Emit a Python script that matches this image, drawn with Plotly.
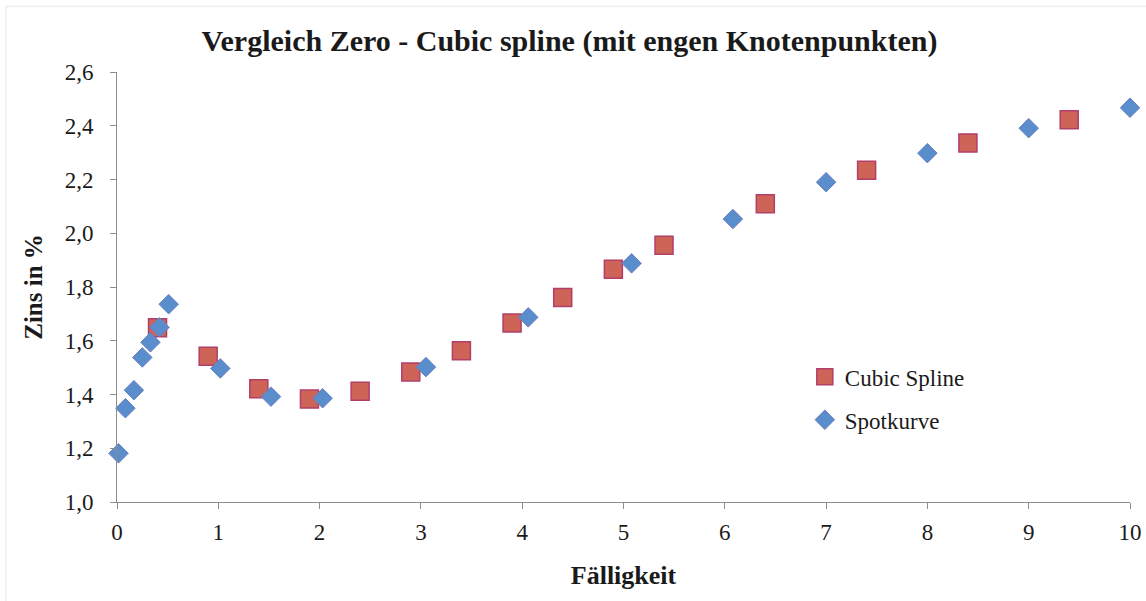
import plotly.graph_objects as go

# Cubic spline (Knotenpunkte)
spline_x = [0.4, 0.9, 1.4, 1.9, 2.4, 2.9, 3.4, 3.9, 4.4, 4.9, 5.4, 6.4, 7.4, 8.4, 9.4]
spline_y = [1.648, 1.542, 1.421, 1.383, 1.412, 1.484, 1.563, 1.666, 1.761, 1.866, 1.955, 2.110, 2.234, 2.336, 2.422]

# Spotkurve
spot_x = [0.015, 0.083, 0.167, 0.25, 0.33, 0.42, 0.51, 1.02, 1.52, 2.03, 3.05, 4.06, 5.08, 6.08, 7.0, 8.0, 9.0, 10.0]
spot_y = [1.181, 1.349, 1.416, 1.538, 1.594, 1.650, 1.736, 1.497, 1.392, 1.386, 1.502, 1.687, 1.888, 2.053, 2.190, 2.298, 2.391, 2.467]

x_ticks = [0, 1, 2, 3, 4, 5, 6, 7, 8, 9, 10]
y_ticks = [1.0, 1.2, 1.4, 1.6, 1.8, 2.0, 2.2, 2.4, 2.6]

FONT = "Liberation Serif"
AXIS_COLOR = "#8c8c8c"

fig = go.Figure()
fig.add_trace(go.Scatter(
    x=spline_x, y=spline_y, mode="markers", name="Cubic Spline",
    legendgroup="a",
    marker=dict(symbol="square", size=18, color="#CD6457",
                line=dict(color="#B23E6A", width=1.5)),
    cliponaxis=False,
))
fig.add_trace(go.Scatter(
    x=spot_x, y=spot_y, mode="markers", name="Spotkurve",
    legendgroup="b",
    marker=dict(symbol="diamond", size=15, color="#5A8DCB",
                line=dict(color="#6C7FC2", width=1)),
    cliponaxis=False,
))

fig.update_layout(
    width=1146, height=601,
    margin=dict(l=117, r=16, t=72, b=99, autoexpand=False),
    paper_bgcolor="white", plot_bgcolor="white",
    separators=", ",
    font=dict(family=FONT, size=23, color="#1a1a1a"),
    title=dict(text="<b>Vergleich Zero - Cubic spline (mit engen Knotenpunkten)</b>",
               x=0.497, xanchor="center", y=0.932, yanchor="middle",
               font=dict(family=FONT, size=30, color="#1a1a1a")),
    xaxis=dict(range=[0, 10], tickvals=x_ticks, ticks="outside", ticklen=6,
               tickcolor=AXIS_COLOR, showline=True, linecolor=AXIS_COLOR, linewidth=1,
               showgrid=False, zeroline=False, ticklabelstandoff=3, automargin=False,
               tickfont=dict(family=FONT, size=23),
               title=dict(text="<b>Fälligkeit</b>", font=dict(family=FONT, size=26), standoff=22)),
    yaxis=dict(range=[1.0, 2.6], tickvals=y_ticks, tickformat=".1f", ticks="outside", ticklen=6,
               tickcolor=AXIS_COLOR, showline=True, linecolor=AXIS_COLOR, linewidth=1,
               showgrid=False, zeroline=False, ticklabelstandoff=12, automargin=False,
               tickfont=dict(family=FONT, size=23),
               title=dict(text="<b>Zins in %</b>", font=dict(family=FONT, size=25), standoff=14)),
    legend=dict(x=0.679, y=0.341, xanchor="left", yanchor="top",
                bgcolor="rgba(0,0,0,0)", font=dict(family=FONT, size=23),
                itemsizing="trace", traceorder="grouped", tracegroupgap=10),
    showlegend=True,
)

fig.add_shape(type="rect", xref="paper", yref="paper",
              x0=-0.1096, x1=1.2, y0=-0.6, y1=1.153,
              line=dict(color="#e6e6e6", width=1), layer="below")

fig.write_html("out.html", config={"displayModeBar": False},
               post_script="document.body.style.margin='0px';")
